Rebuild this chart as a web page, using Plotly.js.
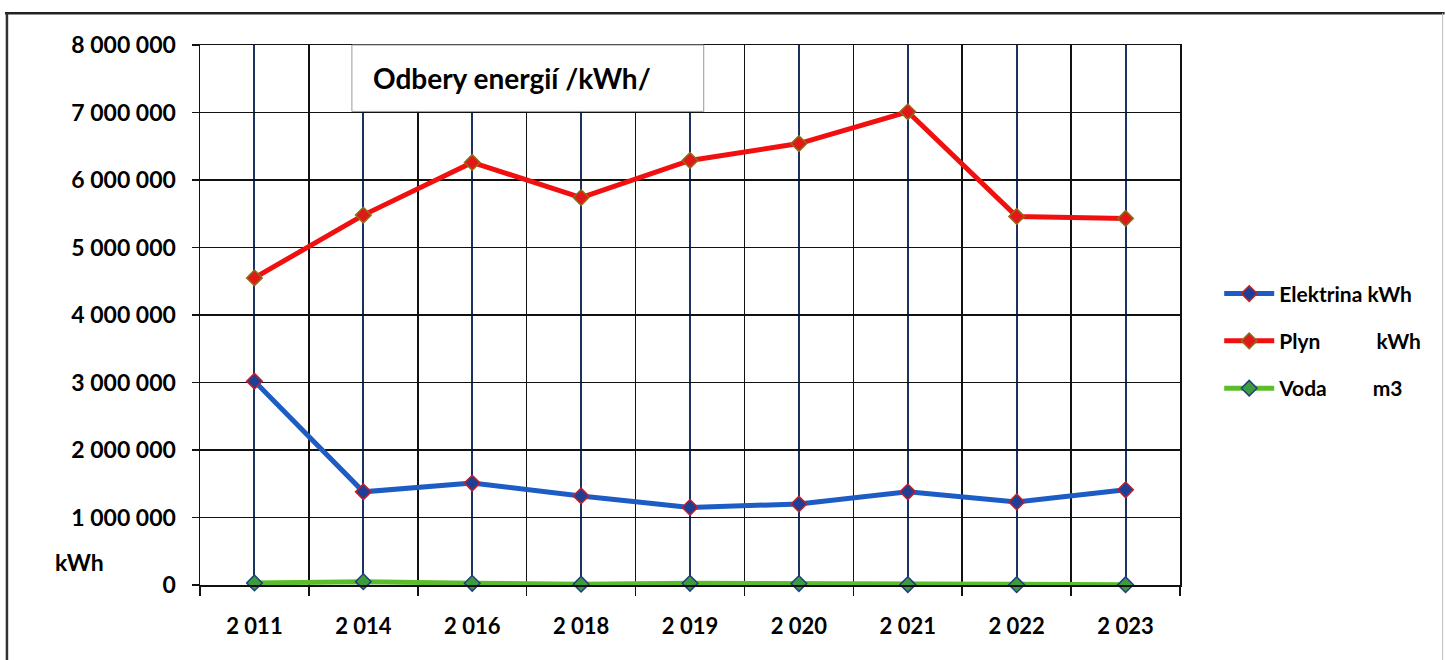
<!DOCTYPE html>
<html>
<head>
<meta charset="utf-8">
<script src="https://cdn.plot.ly/plotly-3.0.1.min.js"></script>
<style>
  html, body { margin: 0; padding: 0; background: #fff; }
  #chart { width: 1445px; height: 660px; }
</style>
</head>
<body>
<div id="chart"></div>
<script>
// --- Data ---
const years = ['2 011', '2 014', '2 016', '2 018', '2 019', '2 020', '2 021', '2 022', '2 023'];
const elektrina = [3020000, 1380000, 1510000, 1320000, 1150000, 1200000, 1380000, 1230000, 1410000];
const plyn = [4550000, 5480000, 6260000, 5740000, 6290000, 6540000, 7010000, 5460000, 5430000];
const voda = [30000, 50000, 25000, 12000, 25000, 22000, 6000, 5000, 5000];

const seriesNames = ['Elektrina kWh', 'Plyn\u00a0\u00a0\u00a0\u00a0\u00a0\u00a0\u00a0\u00a0\u00a0\u00a0\u00a0kWh', 'Voda\u00a0\u00a0\u00a0\u00a0\u00a0\u00a0\u00a0\u00a0\u00a0m3'];
const chartTitle = 'Odbery energií /kWh/';

// category index positions for the x axis
const xIdx = years.map((_, i) => i);
const boundaries = [...xIdx.map(i => i - 0.5), years.length - 0.5];

const FONT = 'Lato, "Open Sans", "Liberation Sans", sans-serif';

function makeTrace(name, values, lineColor, fill, outline, group) {
    return {
        x: xIdx,
        y: values,
        name: name,
        legendgroup: group,
        type: 'scatter',
        mode: 'lines+markers',
        cliponaxis: false,
        line: { color: lineColor, width: 5 },
        marker: { symbol: 'diamond', size: 12, color: fill, line: { color: outline, width: 1.5 } }
    };
}

const traces = [
    makeTrace(seriesNames[0], elektrina, '#1d5cc4', '#1e3f95', '#c0202a', 'a'),
    makeTrace(seriesNames[1], plyn, '#f01010', '#e01818', '#8a7018', 'b'),
    makeTrace(seriesNames[2], voda, '#5cbd2c', '#3c9c3c', '#1d3f80', 'c')
];

const layout = {
    width: 1445,
    height: 660,
    margin: { l: 200, r: 265, t: 45, b: 75 },
    paper_bgcolor: '#fff',
    plot_bgcolor: '#fff',
    separators: ', ',
    font: { family: FONT, color: '#000', size: 20, weight: 'bold' },
    showlegend: true,
    legend: {
        x: 1.04, xanchor: 'left',
        y: 0.452, yanchor: 'middle',
        traceorder: 'grouped',
        tracegroupgap: 17,
        itemwidth: 50,
        font: { family: FONT, size: 21, weight: 'bold', color: '#000' },
        bgcolor: 'rgba(0,0,0,0)'
    },
    xaxis: {
        range: [-0.5, years.length - 0.5],
        tickvals: xIdx,
        ticktext: years,
        ticks: '',
        showgrid: true,
        gridcolor: '#1a3260',
        gridwidth: 2,
        zeroline: false,
        showline: true,
        mirror: true,
        linecolor: '#111',
        linewidth: 1.5,
        ticklabelstandoff: 21,
        tickfont: { family: FONT, size: 22, weight: 'bold' },
        minor: {
            tickvals: boundaries,
            ticks: 'outside',
            ticklen: 9,
            tickcolor: '#111',
            tickwidth: 1.5,
            showgrid: true,
            gridcolor: '#111',
            gridwidth: 1.5
        },
        fixedrange: true
    },
    yaxis: {
        range: [0, 8000000],
        dtick: 1000000,
        tickformat: ',d',
        ticks: 'outside',
        ticklen: 7,
        tickcolor: '#111',
        tickwidth: 1.5,
        showgrid: true,
        gridcolor: '#111',
        gridwidth: 1.5,
        zeroline: false,
        showline: true,
        mirror: true,
        linecolor: '#111',
        linewidth: 1.5,
        ticklabelstandoff: 11,
        tickfont: { family: FONT, size: 23, weight: 'bold' },
        fixedrange: true
    },
    shapes: [
        // outer frame
        { type: 'line', xref: 'paper', yref: 'paper', x0: -0.199, x1: 1.27, y0: 1.059, y1: 1.059, line: { color: '#222', width: 2.5 } },
        { type: 'line', xref: 'paper', yref: 'paper', x0: -0.197, x1: -0.197, y0: -0.14, y1: 1.059, line: { color: '#333', width: 2.5 } },
        { type: 'line', xref: 'paper', yref: 'paper', x0: 1.268, x1: 1.268, y0: -0.14, y1: 1.059, line: { color: '#bbb', width: 1 } },
        // title box
        { type: 'rect', xref: 'paper', yref: 'paper', x0: 0.155, x1: 0.514, y0: 0.877, y1: 1.0, fillcolor: '#fff', line: { color: '#999', width: 1 }, layer: 'above' }
    ],
    annotations: [
        { text: chartTitle, xref: 'paper', yref: 'paper', x: 0.174, y: 0.938, xanchor: 'left', yanchor: 'middle', showarrow: false,
          font: { family: FONT, size: 28, weight: 'bold', color: '#000' } },
        { text: 'kWh', xref: 'paper', yref: 'paper', x: -0.15, y: 0.042, xanchor: 'left', yanchor: 'middle', showarrow: false,
          font: { family: FONT, size: 23, weight: 'bold', color: '#000' } }
    ]
};

Plotly.newPlot('chart', traces, layout, { displayModeBar: false, staticPlot: true });
</script>
</body>
</html>
